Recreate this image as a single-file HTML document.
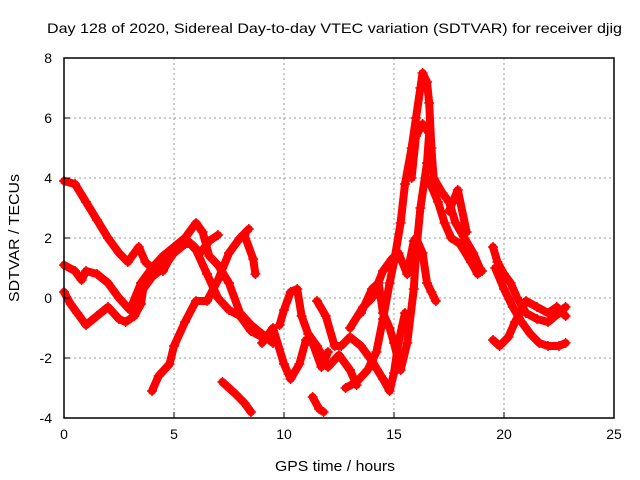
<!DOCTYPE html>
<html><head><meta charset="utf-8"><style>
body{margin:0;background:#fff}
svg{display:block;font-family:"Liberation Sans",sans-serif}
</style></head><body>
<svg id="chart" width="640" height="480">
<text x="47" y="33" font-size="14" textLength="575" lengthAdjust="spacingAndGlyphs">Day 128 of 2020, Sidereal Day-to-day VTEC variation (SDTVAR) for receiver djig</text>
<text x="275" y="471" font-size="15" textLength="120" lengthAdjust="spacingAndGlyphs">GPS time / hours</text>
<text transform="translate(19,302) rotate(-90)" font-size="15" textLength="128" lengthAdjust="spacingAndGlyphs">SDTVAR / TECUs</text>
<g id="grid"></g><g id="series"></g>
<rect x="64" y="58" width="550" height="360" fill="none" stroke="#000" stroke-width="1.5"/>
<g id="ticks"></g>
</svg>
<script>
const xTicks=[0,5,10,15,20,25];
const yTicks=[-4,-2,0,2,4,6,8];
const trackA=[[0,3.9],[0.5,3.8],[1,3.2],[1.5,2.6],[2,2.0],[2.5,1.5],[2.9,1.2],[3.2,1.5],[3.4,1.7],[3.7,1.2],[4,1.0],[4.5,0.9],[5,1.6],[5.5,2.0],[6,2.5],[6.3,2.2],[6.6,1.4],[7,1.1],[7.5,0.5],[8,-0.5],[8.5,-0.9],[9,-1.2],[9.5,-1.5]];
const trackB=[[0,1.1],[0.5,0.9],[0.8,0.6],[1,0.9],[1.5,0.8],[2,0.5],[2.5,0],[3,-0.4],[3.5,0.5],[4,1.0],[4.5,1.4],[5,1.7],[5.5,2.0],[6,1.6],[6.5,0.8],[7,0],[7.5,-0.4],[8,-0.6],[8.5,-1.1],[9,-1.3]];
const trackC=[[0,0.2],[0.3,-0.2],[0.6,-0.5],[1,-0.9],[1.5,-0.6],[2,-0.3],[2.5,-0.7],[2.8,-0.8],[3.2,-0.6],[3.5,-0.2],[3.6,0.3],[4,0.7],[4.5,1.0],[5,1.5],[5.5,1.8],[5.8,1.8],[6.2,1.5],[6.6,1.9],[7,2.1]];
const trackD=[[4,-3.1],[4.3,-2.6],[4.8,-2.2],[5,-1.6],[5.5,-0.8],[6,-0.1],[6.5,-0.1],[7,0.6],[7.5,1.5],[8,2.0],[8.4,2.3]];
const trackE=[[7.2,-2.8],[7.8,-3.2],[8.2,-3.5],[8.5,-3.8]];
const trackF=[[8.2,2.1],[8.6,1.3],[8.7,0.8]];
const trackG=[[9,-1.5],[9.5,-1.0],[10,-2.2],[10.3,-2.7],[10.7,-2.2],[11,-1.4],[11.3,-1.5],[11.7,-2.3],[12,-1.8]];
const trackH=[[9.8,-0.9],[10,-0.4],[10.3,0.2],[10.6,0.3],[10.8,-0.6],[11.1,-1.2],[11.5,-1.6],[12,-2.3],[12.5,-1.9],[13,-2.4],[13.3,-2.9]];
const trackI=[[11.3,-3.3],[11.6,-3.7],[11.8,-3.8]];
const trackJ=[[11.5,-0.1],[11.9,-0.6],[12.3,-1.6],[12.6,-1.6],[13,-1.3],[13.5,-1.6],[14,-2.1],[14.5,-2.7],[14.8,-3.1],[15,-2.5],[15.2,-1.5],[15.5,-0.5]];
const trackK=[[12.8,-3.0],[13.3,-2.8],[13.8,-2.4],[14.2,-1.8],[14.5,-0.7],[14.8,0.5],[15,1.2],[15.3,2.5],[15.5,3.8],[15.8,5.0],[16,6.0],[16.2,7.0],[16.3,7.5],[16.5,7.2],[16.6,6.5],[16.7,5.0],[16.8,4.0],[17.2,3.5],[17.5,3.2],[17.8,2.5],[18.2,2.0],[18.6,1.5],[18.9,1.0]];
const trackL=[[13,-1.0],[13.6,-0.3],[14,0],[14.5,0.9],[14.9,1.3],[15.2,1.5],[15.6,0.8],[15.9,1.9],[16,2.0],[16.3,1.5],[16.5,0.5],[16.7,0.2],[16.9,-0.1]];
const trackM=[[13.5,-0.5],[14,0.3],[14.3,0.5],[14.5,-0.5],[14.8,-1.0],[15,-1.5],[15.3,-2.4],[15.6,-1.5],[15.9,0.3],[16.0,1.5],[16.2,3.0],[16.5,4.5],[16.6,5.5],[16.3,5.8],[16.0,5.4],[15.8,4.0]];
const trackN=[[16.6,3.9],[17,3.2],[17.3,2.5],[17.6,2.0],[18,1.8],[18.5,1.2],[18.8,0.8],[19,0.9]];
const trackO=[[17.5,2.9],[17.9,3.6],[18.3,2.2]];
const trackP=[[19.5,1.7],[19.7,1.2],[20,0.8],[20.3,0.5],[20.6,0],[21,-0.5],[21.5,-0.7],[22,-0.8],[22.5,-0.5],[22.8,-0.3]];
const trackQ=[[19.5,-1.4],[19.8,-1.6],[20.2,-1.3],[20.5,-0.8],[21,-0.1],[21.5,-0.3],[22,-0.5],[22.4,-0.3],[22.8,-0.6]];
const trackR=[[19.6,1.0],[20,0.3],[20.4,-0.3],[20.8,-0.8],[21.2,-1.2],[21.6,-1.5],[22,-1.6],[22.5,-1.6],[22.8,-1.5]];
const tracks=[trackA,trackB,trackC,trackD,trackE,trackF,trackG,trackH,trackI,trackJ,trackK,trackL,trackM,trackN,trackO,trackP,trackQ,trackR];
const NS="http://www.w3.org/2000/svg";
const X=h=>64+h*22, Y=v=>298-v*30;
const grid=document.getElementById('grid'),ticks=document.getElementById('ticks'),ser=document.getElementById('series');
function mk(tag,at,parent){const e=document.createElementNS(NS,tag);for(const k in at)e.setAttribute(k,at[k]);parent.appendChild(e);return e;}
xTicks.forEach(t=>{
 if(t>0&&t<25){const g=mk('line',{x1:X(t),x2:X(t),y1:58,y2:418,stroke:'#999','stroke-dasharray':'2,3'},grid);
 
 }
 mk('line',{x1:X(t),x2:X(t),y1:418,y2:412,stroke:'#000'},ticks);
 const l=mk('text',{x:X(t),y:439,'font-size':14,'text-anchor':'middle'},ticks);l.textContent=t;
 
 
});
yTicks.forEach(t=>{
 if(t>-4&&t<8){const g=mk('line',{x1:64,x2:614,y1:Y(t),y2:Y(t),stroke:'#999','stroke-dasharray':'2,3'},grid);
 
 }
 mk('line',{x1:64,x2:70,y1:Y(t),y2:Y(t),stroke:'#000'},ticks);
 const l=mk('text',{x:52,y:Y(t)+5,'font-size':14,'text-anchor':'end'},ticks);l.textContent=t;
 
 
});
tracks.forEach(tr=>{
 const p=mk('polyline',{points:tr.map(d=>X(d[0])+','+Y(d[1])).join(' '),fill:'none',stroke:'#f00','stroke-width':8,'stroke-linejoin':'round','stroke-linecap':'round'},ser);
 
 
 tr.forEach(d=>{
  const m=mk('path',{d:`M${X(d[0])-5},${Y(d[1])}h10M${X(d[0])},${Y(d[1])-5}v10`,stroke:'#f00','stroke-width':1.5},ser);
  
  
 });
});
</script>
</body></html>
